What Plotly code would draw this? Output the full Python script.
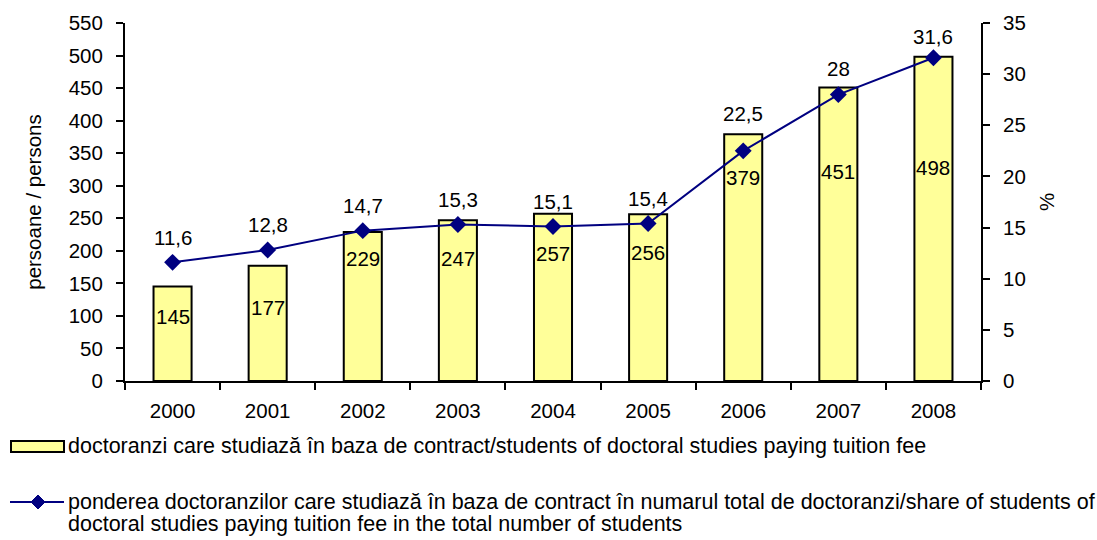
import plotly.graph_objects as go

years = ["2000", "2001", "2002", "2003", "2004", "2005", "2006", "2007", "2008"]
students_paying = [145, 177, 229, 247, 257, 256, 379, 451, 498]
share_paying = [11.6, 12.8, 14.7, 15.3, 15.1, 15.4, 22.5, 28, 31.6]

bar_name = "doctoranzi care studiază în baza de contract/students of doctoral studies paying tuition fee"
line_name_1 = ("ponderea doctoranzilor care studiază în baza de contract în numarul total de doctoranzi/"
               "share of students of")
line_name_2 = "doctoral studies paying tuition fee in the total number of students"

# label placement (px) as in the original chart
bar_label_drop = [30, 42, 27, 38, 40, 38, 43, 84, 111]
line_label_rise = [25, 26, 25, 25, 25, 25, 37, 26, 21]

FONT = "Liberation Sans, Arial, sans-serif"
FS = 20.5
LFS = 21.5
NAVY = "#000080"

# plot area in pixels
L, R, T, B = 125, 116, 23, 159
W, H = 1097, 540
PW, PH = W - L - R, H - T - B


def px(x):
    return (x - L) / PW


def py(y):
    return (H - B - y) / PH


fig = go.Figure()
fig.add_trace(go.Bar(x=years, y=students_paying, width=0.4,
                     marker=dict(color="#FFFF99", line=dict(color="black", width=2)),
                     name=bar_name, showlegend=False))
fig.add_trace(go.Scatter(x=years, y=share_paying, yaxis="y2", mode="lines+markers",
                         line=dict(color=NAVY, width=2),
                         marker=dict(symbol="diamond", size=13, color=NAVY),
                         name=line_name_1, showlegend=False))

for i, (v, d) in enumerate(zip(students_paying, bar_label_drop)):
    fig.add_annotation(x=i, y=v, text=str(v), showarrow=False, yanchor="middle", yshift=-d,
                       font=dict(family=FONT, size=FS, color="black"))
for i, (v, r) in enumerate(zip(share_paying, line_label_rise)):
    fig.add_annotation(x=i, y=v, yref="y2", text=str(v).replace(".", ","), showarrow=False,
                       yanchor="middle", yshift=r, font=dict(family=FONT, size=FS, color="black"))

# legend drawn by hand
fig.add_shape(type="rect", xref="paper", yref="paper", x0=px(11), x1=px(64), y0=py(441), y1=py(452),
              fillcolor="#FFFF99", line=dict(color="black", width=2))
fig.add_annotation(xref="paper", yref="paper", x=px(66), y=py(446), text=bar_name, showarrow=False,
                   xanchor="left", yanchor="middle", font=dict(family=FONT, size=LFS, color="black"))
fig.add_shape(type="line", xref="paper", yref="paper", x0=px(10), x1=px(64), y0=py(502), y1=py(502),
              line=dict(color=NAVY, width=2))
fig.add_shape(type="path", xref="paper", yref="paper",
              path="M {} {} L {} {} L {} {} L {} {} Z".format(px(31), py(502), px(38), py(495),
                                                            px(45), py(502), px(38), py(509)),
              fillcolor=NAVY, line=dict(color=NAVY, width=1))
fig.add_annotation(xref="paper", yref="paper", x=px(66), y=py(502), text=line_name_1, showarrow=False,
                   xanchor="left", yanchor="middle", font=dict(family=FONT, size=LFS, color="black"))
fig.add_annotation(xref="paper", yref="paper", x=px(66), y=py(524), text=line_name_2, showarrow=False,
                   xanchor="left", yanchor="middle", font=dict(family=FONT, size=LFS, color="black"))

axis_common = dict(showgrid=False, zeroline=False, showline=True, linecolor="black", linewidth=2,
                   ticks="outside", ticklen=7, tickwidth=2, tickcolor="black", automargin=False,
                   tickfont=dict(family=FONT, size=FS, color="black"))

fig.update_layout(
    width=W, height=H,
    margin=dict(l=L, r=R, t=T, b=B),
    plot_bgcolor="white", paper_bgcolor="white",
    font=dict(family=FONT, size=FS, color="black"),
    xaxis=dict(**axis_common, type="category", range=[-0.5, len(years) - 0.5],
               tickson="boundaries", ticklabelstandoff=10),
    yaxis=dict(**axis_common, range=[0, 550], dtick=50, ticklabelstandoff=9,
               title=dict(text="persoane / persons", font=dict(family=FONT, size=FS), standoff=22)),
    yaxis2=dict(**axis_common, overlaying="y", side="right", range=[0, 35], dtick=5, ticklabelstandoff=9,
                title=dict(text="%", font=dict(family=FONT, size=FS), standoff=15)),
    bargap=0.6,
)

# drop the default page margin so the figure sits at the window's corner
fig.write_html("out.html", config={"displayModeBar": False},
               post_script="document.body.style.margin = '0';")
